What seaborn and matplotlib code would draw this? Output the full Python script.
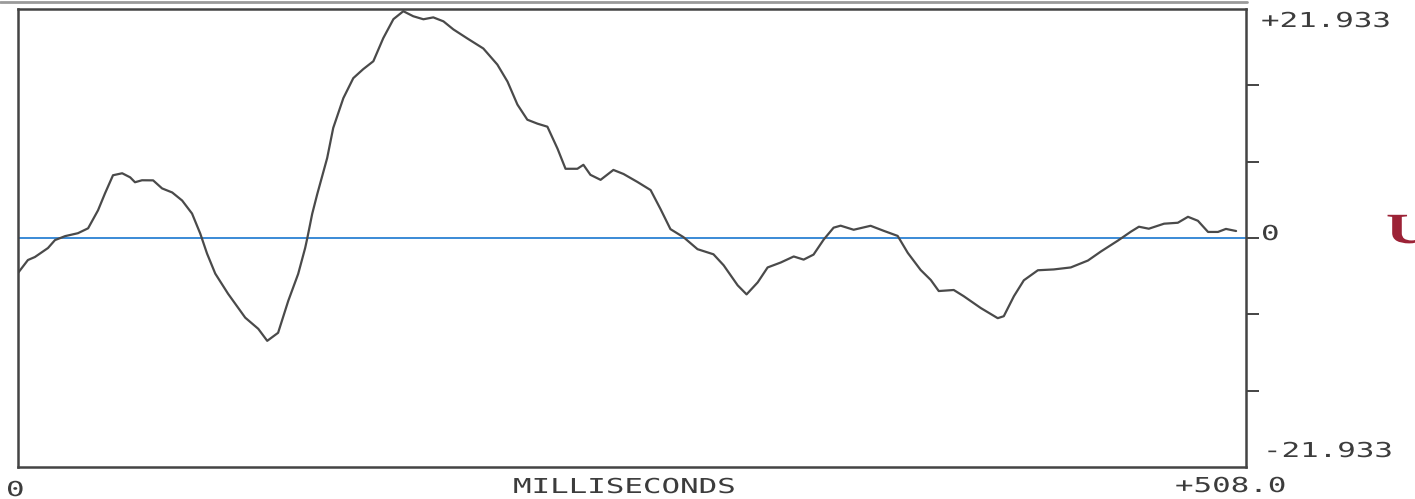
import numpy as np
import pandas as pd
import matplotlib
matplotlib.use("Agg")
import matplotlib.pyplot as plt
import seaborn as sns
from matplotlib import patheffects
from matplotlib.transforms import Affine2D
from matplotlib.lines import Line2D

# Averaged evoked response: time (ms) and amplitude
time_ms = [0.0, 4.1, 7.0, 12.4, 15.3, 19.5, 24.8, 29.0, 33.1, 36.0,
           39.3, 43.1, 46.4, 48.4, 51.3, 55.9, 59.6, 63.8, 67.9, 72.0,
           75.4, 78.2, 81.6, 86.9, 94.0, 99.4, 103.1, 107.6, 111.8, 115.9,
           118.8, 119.7, 121.7, 123.8, 127.9, 130.4, 134.6, 138.7, 142.8, 147.0,
           151.1, 155.3, 159.4, 163.5, 167.7, 171.8, 176.0, 180.1, 185.9, 192.5,
           198.3, 202.5, 206.6, 210.7, 214.9, 219.0, 223.2, 226.5, 231.4, 233.9,
           236.8, 241.0, 246.3, 250.5, 256.3, 261.7, 265.8, 269.9, 275.3, 281.1,
           287.7, 291.9, 297.7, 301.4, 306.0, 310.1, 315.5, 320.9, 325.0, 329.1,
           333.3, 337.4, 340.3, 345.7, 352.7, 358.1, 363.9, 368.1, 373.4, 377.6,
           380.9, 387.1, 391.2, 398.3, 405.3, 407.8, 412.0, 416.1, 421.9, 428.5,
           435.5, 442.6, 448.0, 455.0, 460.4, 463.7, 467.8, 474.1, 479.8, 484.0,
           488.1, 492.3, 496.4, 499.7, 503.9]
amplitude = [-3.35, -2.11, -1.82, -0.96, -0.20, 0.18, 0.46, 0.93, 2.65, 4.28,
             6.01, 6.20, 5.81, 5.34, 5.53, 5.52, 4.75, 4.36, 3.59, 2.34,
             0.42, -1.49, -3.41, -5.34, -7.63, -8.70, -9.85, -9.08, -6.02, -3.44,
             -0.95, 0.01, 2.31, 4.21, 7.66, 10.54, 13.40, 15.31, 16.17, 16.93,
             19.14, 20.96, 21.72, 21.24, 20.95, 21.13, 20.75, 19.98, 19.11, 18.15,
             16.61, 14.98, 12.78, 11.33, 10.95, 10.66, 8.55, 6.63, 6.63, 7.01,
             6.05, 5.57, 6.52, 6.13, 5.36, 4.59, 2.77, 0.85, 0.08, -1.07,
             -1.56, -2.61, -4.53, -5.40, -4.25, -2.82, -2.35, -1.77, -2.07, -1.59,
             -0.15, 0.99, 1.18, 0.79, 1.17, 0.69, 0.20, -1.43, -3.06, -4.02,
             -5.08, -4.98, -5.57, -6.71, -7.68, -7.49, -5.57, -4.05, -3.09, -3.01,
             -2.82, -2.16, -1.29, -0.25, 0.61, 1.08, 0.89, 1.37, 1.46, 2.03,
             1.65, 0.58, 0.58, 0.87, 0.67]

x_range = (0.0, 508.0)
y_limit = 21.933
y_labels = ["+21.933", "0", "-21.933"]
x_labels = ["0", "MILLISECONDS", "+508.0"]

W, H = 1415, 499
sns.set_style("white")
plt.rcParams["font.family"] = ["DejaVu Sans Mono", "DejaVu Sans"]

fig = plt.figure(figsize=(W / 100, H / 100), dpi=100, facecolor="white")
ax = fig.add_axes([18 / W, 1 - 467 / H, (1246 - 18) / W, (467 - 9) / H])

df = pd.DataFrame({"t": time_ms, "v": amplitude})
sns.lineplot(data=df, x="t", y="v", ax=ax, color="#4a4a4a",
             linewidth=1.6, estimator=None, sort=False)
ax.axhline(0, color="#3a8ad6", linewidth=1.4, zorder=1)

ax.set_xlim(*x_range)
ax.set_ylim(-y_limit, y_limit)
ax.set_xlabel("")
ax.set_ylabel("")

# Plotter-style frame: ticks on the bottom and right edges only
step_x = (x_range[1] - x_range[0]) / 8
ax.set_xticks(np.arange(1, 8) * step_x)
step_y = y_limit / 3
ax.set_yticks(np.arange(-2, 3) * step_y)
ax.yaxis.tick_right()
ax.tick_params(axis="both", direction="out", color="#444444", width=1.4,
               labelbottom=False, labelright=False, labelleft=False)
ax.tick_params(axis="x", length=7)
ax.tick_params(axis="y", length=9)
for side in ax.spines.values():
    side.set_visible(True)
    side.set_color("#444444")
    side.set_linewidth(1.8)


class StretchX(patheffects.AbstractPathEffect):
    """Widen glyphs horizontally from the text origin (plotter lettering)."""

    def __init__(self, sx):
        super().__init__()
        self.sx = sx

    def draw_path(self, renderer, gc, tpath, affine, rgbFace=None):
        renderer.draw_path(gc, tpath, Affine2D().scale(self.sx, 1.0) + affine, rgbFace)


wide = [StretchX(1.5)]


def label(px, py, s, **kw):
    fig.text(px / W, 1 - py / H, s, ha="left", va="baseline", fontsize=14.8,
             color="#3c3c3c", path_effects=wide, **kw)


# Amplitude scale on the right
label(1261, 27, y_labels[0])
label(1261, 240, y_labels[1])
label(1263, 457, y_labels[2])
# Time axis annotations
label(6, 496, x_labels[0])
label(513, 493, x_labels[1])
label(1175, 492, x_labels[2])

# Red letter at the right margin, running off the page edge
fig.text(1386 / W, 1 - 243 / H, "U", ha="left", va="baseline",
         fontsize=31, fontweight="bold", family="Liberation Serif",
         color="#9c2236", path_effects=[StretchX(1.45)])

# Scanned page edge along the top
fig.add_artist(Line2D([0, 1247 / W], [1 - 1.5 / H, 1 - 1.5 / H],
                      color="#9a9a9a", linewidth=2.0))

fig.savefig("out.png", dpi=100, facecolor="white")
